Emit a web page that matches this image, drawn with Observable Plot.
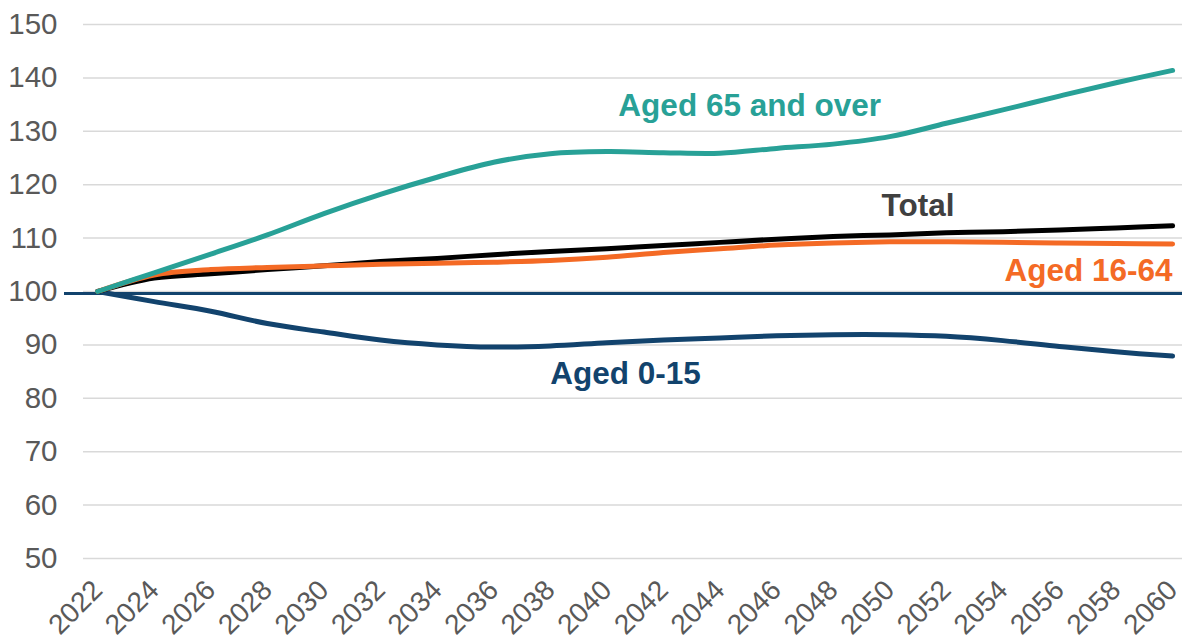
<!DOCTYPE html>
<html><head><meta charset="utf-8">
<script src="https://cdn.jsdelivr.net/npm/d3@7"></script>
<script src="https://cdn.jsdelivr.net/npm/@observablehq/plot@0.6"></script>
<style>html,body{margin:0;padding:0;background:#fff;overflow:hidden}</style>
</head><body><div id="chart"></div>
<script>
const years = [2022,2024,2026,2028,2030,2032,2034,2036,2038,2040,2042,2044,2046,2048,2050,2052,2054,2056,2058,2060];
const aged0to15 = [100,98.1,96.3,94.0,92.4,90.9,90.0,89.6,89.8,90.4,90.9,91.3,91.7,91.9,91.9,91.6,90.8,89.7,88.7,87.9];
const totalPop = [100,102.5,103.3,104.1,104.8,105.6,106.2,106.9,107.5,108.0,108.6,109.2,109.8,110.3,110.6,111.0,111.2,111.5,111.9,112.3];
const aged16to64 = [100,103.1,104.1,104.5,104.8,105.1,105.3,105.5,105.8,106.4,107.3,108.0,108.7,109.1,109.3,109.3,109.2,109.1,109.0,108.9];
const aged65plus = [100,103.5,107.0,110.6,114.6,118.2,121.4,124.2,125.8,126.2,126.0,125.9,126.8,127.6,129.0,131.5,134.0,136.6,139.1,141.4];
const yTicks = [50,60,70,80,90,100,110,120,130,140,150];
const xTicks = years;
const seriesNames = ["Aged 0-15","Total","Aged 16-64","Aged 65 and over"];
const seriesColors = ["#12436d","#000000","#f46a25","#28a197"];
const labelColors = ["#12436d","#404040","#f46a25","#28a197"];

const seriesValues = [aged0to15, totalPop, aged16to64, aged65plus];
const rows = [];
seriesNames.forEach((name, i) => {
  years.forEach((yr, j) => rows.push({series: name, year: yr, value: seriesValues[i][j]}));
});

const chart = Plot.plot({
  width: 1182,
  height: 642,
  marginTop: 24,
  marginBottom: 84,
  marginLeft: 64,
  marginRight: 0,
  style: {fontFamily: "'Liberation Sans', Arial, sans-serif", fontSize: "29px", background: "#fff", color: "#595959"},
  x: {domain: [2020.83, 2060.35], label: null},
  y: {domain: [50, 150], label: null},
  color: {domain: seriesNames, range: seriesColors},
  marks: [
    Plot.ruleY(yTicks, {stroke: "#d9d9d9", strokeWidth: 1.5, insetLeft: 19}),
    Plot.axisY(yTicks, {tickSize: 0, tickPadding: 7, fontSize: 29.5, color: "#595959", label: null}),
    Plot.axisX(xTicks, {tickSize: 0, tickPadding: 27, tickRotate: -45, fontSize: 28, color: "#595959", tickFormat: d => String(d), label: null}),
    Plot.ruleY([100], {stroke: "#12436d", strokeWidth: 3, dy: 2}),
    Plot.line(rows, {x: "year", y: "value", z: "series", stroke: "series", strokeWidth: 5, curve: "catmull-rom", strokeLinecap: "round", strokeLinejoin: "round"}),
    Plot.text([seriesNames[3]], {x: 2045.05, y: 134.7, fill: labelColors[3], fontWeight: "bold", fontSize: 31.5, textAnchor: "middle"}),
    Plot.text([seriesNames[1]], {x: 2051.0, y: 116.0, fill: labelColors[1], fontWeight: "bold", fontSize: 31.5, textAnchor: "middle"}),
    Plot.text([seriesNames[2]], {x: 2060, y: 103.8, fill: labelColors[2], fontWeight: "bold", fontSize: 31.5, textAnchor: "end"}),
    Plot.text([seriesNames[0]], {x: 2040.66, y: 84.5, fill: labelColors[0], fontWeight: "bold", fontSize: 31.5, textAnchor: "middle"})
  ]
});
document.getElementById("chart").appendChild(chart);
</script>
</body></html>
